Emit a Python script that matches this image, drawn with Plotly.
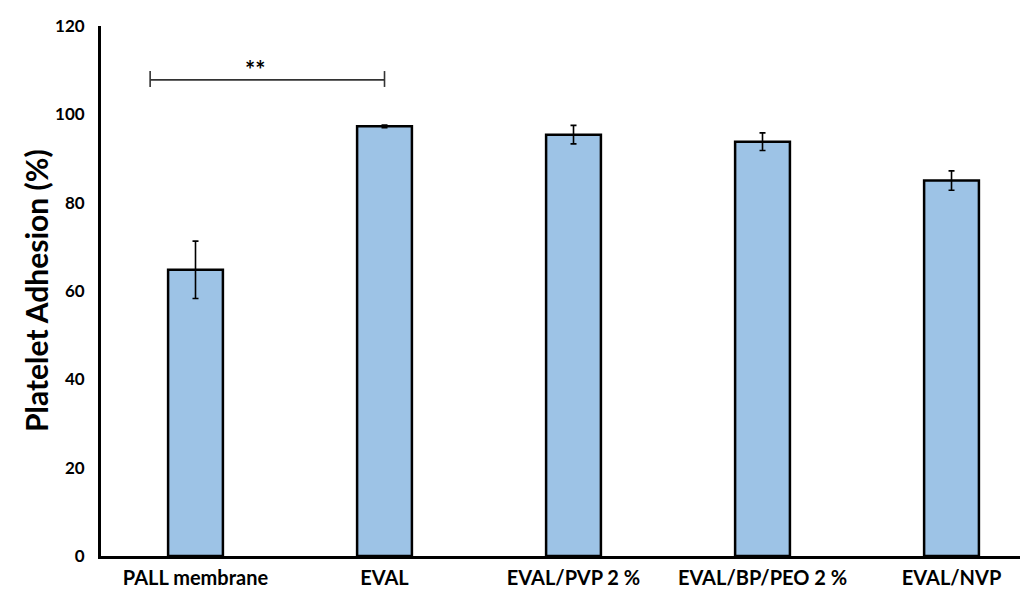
import plotly.graph_objects as go

categories = ["PALL membrane", "EVAL", "EVAL/PVP 2 %", "EVAL/BP/PEO 2 %", "EVAL/NVP"]
values = [64.8, 97.3, 95.4, 93.8, 85.0]
errors = [6.5, 0.3, 2.1, 2.0, 2.2]
y_ticks = [0, 20, 40, 60, 80, 100, 120]
sig_label = "**"
sig_from, sig_to = -0.24, 1.0
sig_level = 107.8

FONT = "Lato"

fig = go.Figure()
fig.add_trace(go.Bar(
    x=categories, y=values,
    width=0.29,
    marker=dict(color="#9DC3E6", line=dict(color="black", width=2.5)),
    error_y=dict(type="data", array=errors, visible=True,
                 color="black", thickness=1.6, width=3),
    showlegend=False,
))

# significance bracket
fig.add_shape(type="line", xref="x", yref="y", x0=sig_from, x1=sig_to,
              y0=sig_level, y1=sig_level, line=dict(color="#333333", width=1.6))
for xv in (sig_from, sig_to):
    fig.add_shape(type="line", xref="x", yref="y", x0=xv, x1=xv,
                  y0=sig_level - 1.6, y1=sig_level + 2.0,
                  line=dict(color="#333333", width=1.6))
fig.add_annotation(x=0.315, y=sig_level + 2.4, xref="x", yref="y",
                   text="<b>" + sig_label + "</b>", showarrow=False,
                   font=dict(family=FONT, size=24, color="black"),
                   yanchor="middle")

# y-axis title, placed by pixel offset from the plot's left edge
fig.add_annotation(x=(28 - 93) / (1028 - 93), y=0.5, xref="paper", yref="paper",
                   text="<b>Platelet Adhesion (%)</b>", showarrow=False,
                   textangle=-90, font=dict(family=FONT, size=30, color="black"),
                   xanchor="center", yanchor="middle")

fig.update_layout(
    width=1028, height=590,
    margin=dict(l=93, r=0, t=18, b=42, autoexpand=False),
    paper_bgcolor="white", plot_bgcolor="white",
    font=dict(family=FONT, color="black"),
    xaxis=dict(
        range=[-0.5, 4.447], automargin=False,
        showline=True, linecolor="black", linewidth=2.8,
        showgrid=False, ticks="", zeroline=False,
        tickfont=dict(family=FONT, size=20, color="black", weight="bold"),
        ticklabelstandoff=2,
    ),
    yaxis=dict(
        range=[0, 120], tickvals=y_ticks, automargin=False,
        showline=True, linecolor="black", linewidth=2.8,
        showgrid=False, ticks="", zeroline=False,
        tickfont=dict(family=FONT, size=17, color="black", weight="bold"),
        ticklabelstandoff=10,
    ),
)

fig.write_html("out.html")
